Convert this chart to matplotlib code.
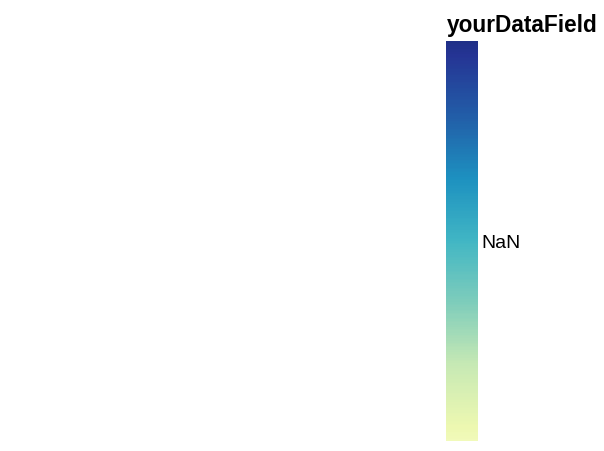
import numpy as np
import matplotlib
matplotlib.use("Agg")
import matplotlib.pyplot as plt
from matplotlib.colors import LinearSegmentedColormap, Normalize
import matplotlib.colorbar as mcolorbar

field_name = "yourDataField"
values = [np.nan]
tick_labels = ["NaN"]

plt.rcParams['font.family'] = ['Liberation Sans', 'DejaVu Sans']

base = plt.get_cmap('YlGnBu')
cmap = LinearSegmentedColormap.from_list('trunc', base(np.linspace(0.1, 0.9, 256)))

fig = plt.figure(figsize=(6.04, 4.52), dpi=100)
cax = fig.add_axes([446/604, 10/452, 32/604, 400/452])
norm = Normalize(vmin=0, vmax=1)
cb = mcolorbar.ColorbarBase(cax, cmap=cmap, norm=norm, orientation='vertical')
cb.outline.set_visible(False)
cb.set_ticks([0.5])
cb.set_ticklabels(tick_labels)
cax.tick_params(length=0, pad=2.5, labelsize=14)
cax.set_title(field_name, fontsize=16.3, fontweight='bold', loc='left', pad=7, x=0.04)

fig.savefig('out.png', dpi=100)
